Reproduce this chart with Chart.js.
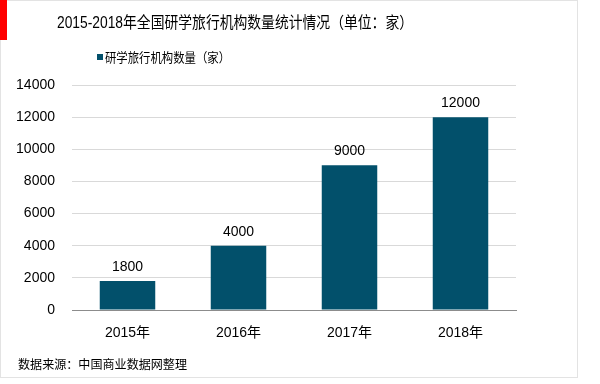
<!DOCTYPE html>
<html>
<head>
<meta charset="utf-8">
<script src="https://cdn.jsdelivr.net/npm/chart.js@4"></script>
<style>
html,body{margin:0;padding:0;background:#fff;}
#wrap{position:relative;width:600px;height:384px;}
</style>
</head>
<body>
<div id="wrap"><canvas id="c" width="600" height="384"></canvas></div>
<script>
const titleText = '2015-2018年全国研学旅行机构数量统计情况（单位：家）';
const seriesName = '研学旅行机构数量（家）';
const sourceText = '数据来源：中国商业数据网整理';
const categories = ['2015年', '2016年', '2017年', '2018年'];
const values = [1800, 4000, 9000, 12000];
const yTicks = [0, 2000, 4000, 6000, 8000, 10000, 12000, 14000];

const FONT = '"Liberation Sans", Arial, "Noto Sans CJK SC", sans-serif';
const BAR = '#02506b';

function fitText(ctx, text, x, y, size, width) {
  ctx.font = size + 'px ' + FONT;
  const w = ctx.measureText(text).width;
  const s = Math.min(1, width / w);
  ctx.save();
  ctx.translate(x, y);
  ctx.scale(s, 1);
  ctx.fillText(text, 0, 0);
  ctx.restore();
}

const decor = {
  id: 'decor',
  beforeDraw(chart) {
    const ctx = chart.ctx;
    ctx.save();
    ctx.fillStyle = '#fff';
    ctx.fillRect(0, 0, 600, 384);
    ctx.strokeStyle = '#e3e3e3';
    ctx.lineWidth = 1;
    ctx.strokeRect(0.5, 0.5, 577, 377);
    ctx.fillStyle = '#ff0000';
    ctx.fillRect(0, 0, 7, 40);
    ctx.restore();
  },
  afterDraw(chart) {
    const ctx = chart.ctx;
    ctx.save();
    ctx.fillStyle = '#000';
    ctx.textBaseline = 'middle';
    ctx.textAlign = 'left';
    fitText(ctx, titleText, 57, 24, 16, 356);
    // legend
    ctx.fillStyle = BAR;
    ctx.fillRect(97, 54, 6, 6);
    ctx.fillStyle = '#000';
    fitText(ctx, seriesName, 105, 58, 13, 125);
    // source
    fitText(ctx, sourceText, 18, 366, 12.5, 169);
    // data labels
    const meta = chart.getDatasetMeta(0);
    ctx.font = '14px ' + FONT;
    ctx.textAlign = 'center';
    meta.data.forEach((bar, i) => {
      ctx.fillText(String(values[i]), bar.x, bar.y - 14);
    });
    ctx.restore();
  }
};

new Chart(document.getElementById('c'), {
  type: 'bar',
  data: {
    labels: categories,
    datasets: [{
      label: seriesName,
      data: values,
      backgroundColor: BAR,
      borderWidth: 0,
      barPercentage: 0.5,
      categoryPercentage: 1.0
    }]
  },
  options: {
    responsive: false,
    animation: false,
    devicePixelRatio: 1,
    layout: { padding: { left: 0, right: 84, top: 85, bottom: 34 } },
    plugins: {
      legend: { display: false },
      title: { display: false },
      tooltip: { enabled: false }
    },
    scales: {
      x: {
        grid: { display: false, drawTicks: false },
        border: { display: true, color: '#8c8c8c', width: 1 },
        ticks: { color: '#000', font: { family: FONT, size: 14 }, padding: 15, maxRotation: 0 },
        afterFit(s) { s.height = 40; }
      },
      y: {
        min: 0, max: 14000,
        afterBuildTicks(s) { s.ticks = yTicks.map(v => ({ value: v })); },
        grid: { color: '#d9d9d9', drawTicks: false },
        border: { display: false },
        ticks: { color: '#000', font: { family: FONT, size: 14 }, padding: 17, callback: v => String(v) },
        afterFit(s) { s.width = 72; }
      }
    }
  },
  plugins: [decor]
});
</script>
</body>
</html>
